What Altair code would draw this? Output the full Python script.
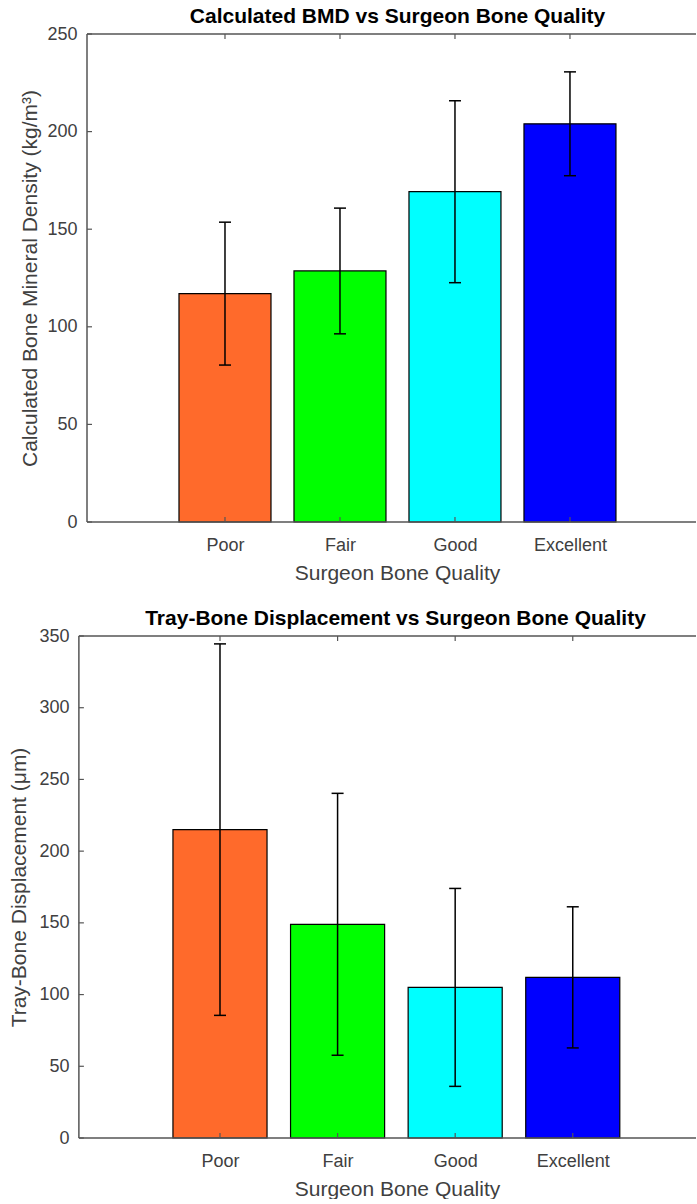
import altair as alt
import pandas as pd

# Category order, bar positions and fill colours shared by both panels
categories = ["Poor", "Fair", "Good", "Excellent"]
positions = [1, 2, 3, 4]
bar_colors = ["#FF6A2B", "#00FF00", "#00FFFF", "#0000FF"]

# Calculated BMD (kg/m^3): mean and standard deviation per grade
bmd_mean = [117.0, 128.6, 169.2, 204.0]
bmd_err = [36.6, 32.2, 46.6, 26.6]

# Tray-bone displacement (um): mean and standard deviation per grade
disp_mean = [215.0, 149.0, 105.0, 112.0]
disp_err = [129.5, 91.3, 69.0, 49.2]

FONT = "Liberation Sans"
FRAME = "#555555"
TEXT = "#404040"


def panel(means, errs, title, ytitle, y_max, y_step, x_lo, x_hi, frame_lo,
          axis_shift, height, title_dx, xtitle_x, ytitle_pad):
    df = pd.DataFrame({"pos": positions, "cat": categories,
                       "mean": means, "err": errs})
    ytick_values = [int(v) for v in range(0, y_max + 1, y_step)]
    yticks = pd.DataFrame({"v": ytick_values})
    one = pd.DataFrame({"k": [0]})

    xs = alt.Scale(domain=[x_lo, x_hi], nice=False, zero=False)
    ys = alt.Scale(domain=[0, y_max], nice=False)
    label_expr = "[" + ",".join(f"'{c}'" for c in categories) + "][datum.value - 1]"

    x_axis = alt.Axis(values=positions, labelExpr=label_expr,
                      title="Surgeon Bone Quality", domain=False,
                      ticks=False, grid=False, labelPadding=14,
                      titlePadding=8, titleX=xtitle_x)
    y_axis = alt.Axis(values=ytick_values, title=ytitle,
                      domain=False, ticks=False, grid=False,
                      labelPadding=10, titlePadding=ytitle_pad, offset=axis_shift)

    base = alt.Chart(df).transform_calculate(
        left="datum.pos - 0.4",
        right="datum.pos + 0.4",
        lo="datum.mean - datum.err",
        hi="datum.mean + datum.err",
    )

    bars = base.mark_bar(stroke="black", strokeWidth=1.2).encode(
        x=alt.X("left:Q", scale=xs, axis=x_axis),
        x2="right:Q",
        y=alt.Y("mean:Q", scale=ys, axis=y_axis),
        y2=alt.Y2Datum(0),
        color=alt.Color("cat:N", scale=alt.Scale(domain=categories, range=bar_colors),
                        legend=None),
    )

    # error bar stems and caps
    stems = base.mark_rule(color="black", strokeWidth=1.5).encode(
        x=alt.X("pos:Q", axis=x_axis),
        y=alt.Y("lo:Q", axis=y_axis),
        y2="hi:Q",
    )
    caps_hi = base.mark_rule(color="black", strokeWidth=1.5,
                             xOffset=-6, x2Offset=6).encode(
        x=alt.X("pos:Q", axis=x_axis), x2="pos:Q", y=alt.Y("hi:Q", axis=y_axis))
    caps_lo = base.mark_rule(color="black", strokeWidth=1.5,
                             xOffset=-6, x2Offset=6).encode(
        x=alt.X("pos:Q", axis=x_axis), x2="pos:Q", y=alt.Y("lo:Q", axis=y_axis))

    # box frame: left, bottom and top edges
    frame_left = alt.Chart(one).mark_rule(color=FRAME, strokeWidth=1.5).encode(
        x=alt.XDatum(frame_lo, axis=x_axis), y=alt.YDatum(0, axis=y_axis),
        y2=alt.Y2Datum(y_max))
    frame_bottom = alt.Chart(one).mark_rule(color=FRAME, strokeWidth=1.5).encode(
        x=alt.XDatum(frame_lo, axis=x_axis), x2=alt.X2Datum(x_hi),
        y=alt.YDatum(0, axis=y_axis))
    frame_top = alt.Chart(one).mark_rule(color=FRAME, strokeWidth=1.5).encode(
        x=alt.XDatum(frame_lo, axis=x_axis), x2=alt.X2Datum(x_hi),
        y=alt.YDatum(y_max, axis=y_axis))

    # inward tick marks
    ytick_marks = alt.Chart(yticks).mark_rule(color=FRAME, strokeWidth=1.2,
                                              x2Offset=5).encode(
        x=alt.XDatum(frame_lo, axis=x_axis), x2=alt.X2Datum(frame_lo),
        y=alt.Y("v:Q", axis=y_axis))
    xtick_bottom = alt.Chart(df).mark_rule(color=FRAME, strokeWidth=1.2,
                                           y2Offset=-5).encode(
        x=alt.X("pos:Q", axis=x_axis), y=alt.YDatum(0, axis=y_axis),
        y2=alt.Y2Datum(0))
    xtick_top = alt.Chart(df).mark_rule(color=FRAME, strokeWidth=1.2,
                                        y2Offset=5).encode(
        x=alt.X("pos:Q", axis=x_axis), y=alt.YDatum(y_max, axis=y_axis),
        y2=alt.Y2Datum(y_max))

    return alt.layer(
        bars, stems, caps_hi, caps_lo,
        frame_left, frame_bottom, frame_top,
        ytick_marks, xtick_bottom, xtick_top,
    ).properties(
        width=609, height=height,
        title=alt.TitleParams(title, fontSize=21, fontWeight="bold", font=FONT,
                              color="black", anchor="middle", offset=-2, dx=title_dx),
    )


top = panel(bmd_mean, bmd_err, "Calculated BMD vs Surgeon Bone Quality",
            "Calculated Bone Mineral Density (kg/m³)", 250, 50,
            -0.2, 5.096, -0.2, 0, 488, 6, 310, 6)
bottom = panel(disp_mean, disp_err, "Tray-Bone Displacement vs Surgeon Bone Quality",
               "Tray-Bone Displacement (μm)", 350, 50,
               -0.131, 5.048, -0.2, 8, 502, 4, 310, 9)

chart = alt.vconcat(top, bottom, spacing=25).properties(
    padding={"left": 8, "top": 6, "right": 0, "bottom": 0},
    background="white",
).configure_view(stroke=None).configure_axis(
    labelFont=FONT, labelFontSize=18, labelColor=TEXT,
    titleFont=FONT, titleFontSize=21, titleColor=TEXT, titleFontWeight="normal",
)

chart.save("out.html", embed_options={"renderer": "svg", "actions": False})
